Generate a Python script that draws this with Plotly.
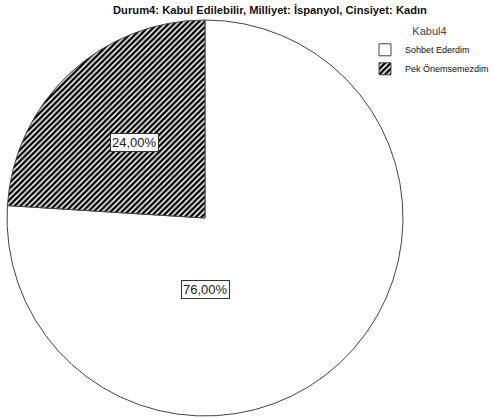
import math
import plotly.graph_objects as go

categories = ["Sohbet Ederdim", "Pek Önemsemezdim"]
values = [76.0, 24.0]
title_text = "Durum4: Kabul Edilebilir, Milliyet: İspanyol, Cinsiyet: Kadın"
legend_title = "Kabul4"

W, H = 494, 419
# pie domain in pixels
px0, px1 = 7, 403
py_top, py_bot = 20, 416

FONT = "Liberation Sans, Arial, sans-serif"

fig = go.Figure()
fig.add_trace(go.Pie(
    labels=categories,
    values=values,
    sort=False,
    direction="clockwise",
    rotation=0,
    textinfo="none",
    hoverinfo="label+percent",
    marker=dict(
        colors=["white", "white"],
        line=dict(color="#444444", width=1),
        pattern=dict(shape=["", "/"], fgcolor="black", bgcolor="white",
                     size=4, solidity=0.62, fillmode="replace"),
    ),
    domain=dict(x=[px0 / W, px1 / W], y=[1 - py_bot / H, 1 - py_top / H]),
    showlegend=True,
))

# boxed percentage labels placed from the slice angles
total = sum(values)
cx = (px0 + px1) / 2
cy = (py_top + py_bot) / 2
r = (px1 - px0) / 2
start = 0.0
label_r = [0.36, 0.52]
for i, v in enumerate(values):
    frac = v / total
    mid = start + frac / 2
    start += frac
    ang = 2 * math.pi * mid  # clockwise from top
    if i == 0:
        ang = math.pi  # large slice label placed straight below centre
    x = cx + label_r[i] * r * math.sin(ang)
    y = cy - label_r[i] * r * math.cos(ang)
    fig.add_annotation(
        x=x / W, y=1 - y / H, xref="paper", yref="paper",
        xanchor="center", yanchor="middle",
        text=f"{v:.2f}%".replace(".", ","),
        showarrow=False,
        font=dict(family=FONT, size=13, color="#222222"),
        bgcolor="white", bordercolor="#333333", borderwidth=1, borderpad=1,
    )

fig.update_layout(
    width=W, height=H,
    margin=dict(l=0, r=0, t=0, b=0, autoexpand=False),
    paper_bgcolor="white",
    plot_bgcolor="white",
    title=dict(text=f"<b>{title_text}</b>", x=270 / W, xanchor="center",
               y=1 - 10 / H, yanchor="middle",
               font=dict(family=FONT, size=11.2, color="#111111")),
    legend=dict(
        title=dict(text=legend_title, side="top center",
                   font=dict(family=FONT, size=11, color="#444444")),
        x=1, xanchor="right", y=1 - 21 / H, yanchor="top",
        font=dict(family=FONT, size=9, color="#111111"),
        itemwidth=30, tracegroupgap=0,
        bgcolor="rgba(0,0,0,0)",
    ),
)

fig.write_html("out.html", config={"displayModeBar": False},
               post_script="document.body.style.margin='0';document.body.style.overflow='hidden';")
